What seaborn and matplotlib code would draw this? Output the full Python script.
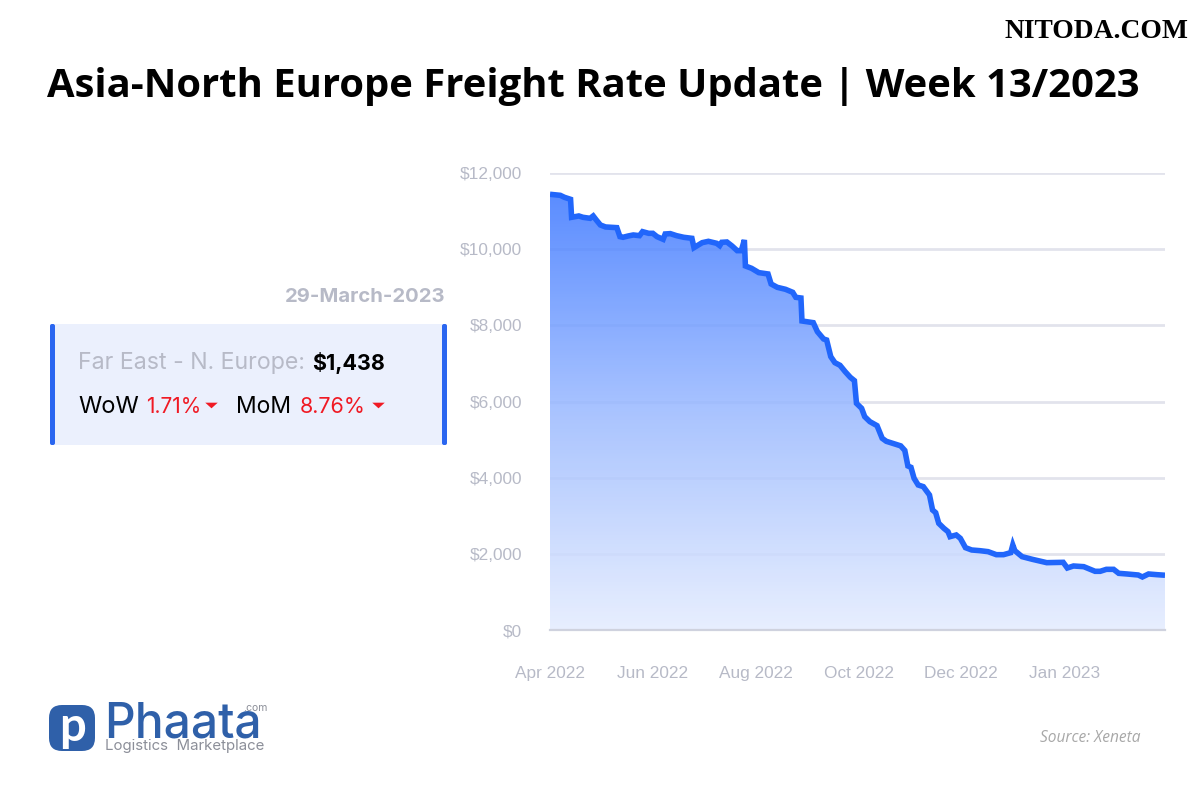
import numpy as np
import pandas as pd
import matplotlib
matplotlib.use("Agg")
import matplotlib.pyplot as plt
from matplotlib.colors import LinearSegmentedColormap
from matplotlib.patches import FancyBboxPatch, Rectangle
import seaborn as sns

# position along the chart's category axis, 100 steps between two labels
obs = [0, 10, 14, 20, 21, 28, 32, 39, 42, 45, 49, 54, 65, 68, 71, 76, 81, 87, 90, 96,
       100, 104, 110, 112, 117, 123, 130, 138, 140, 148, 154, 162, 165, 167, 172, 177,
       182, 186, 189, 190, 196, 203, 212, 215, 221, 229, 236, 239, 244, 245, 256, 260,
       266, 269, 273, 277, 282, 287, 292, 296, 298, 303, 306, 311, 318, 323, 327, 334,
       341, 345, 348, 351, 354, 358, 363, 369, 372, 375, 378, 383, 387, 389, 395, 399,
       404, 410, 418, 426, 434, 441, 448, 450, 452, 459, 469, 483, 499, 503, 509, 519,
       530, 535, 541, 548, 553, 561, 572, 576, 582, 590, 598]
rate = [11441, 11414, 11362, 11309, 10837, 10872, 10837, 10810, 10872, 10767, 10635, 10583,
        10565, 10329, 10312, 10346, 10373, 10355, 10460, 10416, 10416, 10329, 10259, 10399,
        10408, 10355, 10312, 10285, 10040, 10171, 10206, 10154, 10093, 10180, 10189, 10084,
        9961, 9961, 10241, 9559, 9497, 9384, 9349, 9086, 8998, 8946, 8867, 8736, 8718, 8114,
        8070, 7834, 7642, 7615, 7178, 7020, 6950, 6784, 6635, 6548, 5952, 5821, 5602, 5471,
        5366, 5033, 4955, 4895, 4835, 4715, 4307, 4272, 3983, 3808, 3764, 3545, 3151, 3081,
        2801, 2670, 2582, 2451, 2495, 2407, 2162, 2101, 2083, 2057, 1978, 1978, 2031, 2232,
        2083, 1926, 1856, 1768, 1777, 1628, 1681, 1663, 1541, 1541, 1593, 1593, 1488, 1471,
        1444, 1392, 1471, 1453, 1438]
month_labels = ["Apr 2022", "Jun 2022", "Aug 2022", "Oct 2022", "Dec 2022", "Jan 2023"]
month_pos = [0, 100, 200, 300, 400, 500]
y_ticks = [0, 2000, 4000, 6000, 8000, 10000, 12000]

df = pd.DataFrame({"obs": obs, "rate": rate})

sns.set_theme(style="white")
plt.rcParams["font.family"] = ["Liberation Sans", "DejaVu Sans"]

BLUE = "#2166fb"
GREY = "#b7bac7"
RED = "#f01a24"

fig = plt.figure(figsize=(12, 8), dpi=100, facecolor="white")

# page layer in pixels, everything that is not the chart goes here
page = fig.add_axes([0, 0, 1, 1])
page.set_xlim(0, 1200)
page.set_ylim(800, 0)
page.axis("off")

ax = fig.add_axes([550 / 1200, 170 / 800, 615 / 1200, 457 / 800])
ax.patch.set_alpha(0)

# gradient under the line, a bit see through so the grid shows faintly
grad = LinearSegmentedColormap.from_list("area", ["#e4ecfe", "#9ab9ff", "#3d78ff"])
fill = ax.fill_between(df["obs"], df["rate"], 0, color="none", lw=0)
im = ax.imshow(np.linspace(1, 0, 256).reshape(-1, 1), cmap=grad, aspect="auto",
               extent=(0, 598, 0, 11450), vmin=0, vmax=1, zorder=1, alpha=0.85)
im.set_clip_path(fill.get_paths()[0], transform=ax.transData)

sns.lineplot(data=df, x="obs", y="rate", ax=ax, color=BLUE, lw=4, zorder=3,
             errorbar=None, solid_joinstyle="miter", solid_capstyle="butt")

ax.set_xlim(0, 598)
ax.set_ylim(0, 12000)
ax.set_xlabel("")
ax.set_ylabel("")
ax.set_xticks(month_pos, month_labels)
ax.set_yticks(y_ticks, ["${:,}".format(v) for v in y_ticks])
ax.tick_params(axis="both", length=0, labelsize=12.4, labelcolor=GREY)
ax.tick_params(axis="x", pad=26)
ax.tick_params(axis="y", pad=20)
ax.set_axisbelow(True)
ax.yaxis.grid(True, color="#e2e3ec", lw=2)
ax.xaxis.grid(False)
sns.despine(ax=ax, left=True, top=True, right=True, bottom=False)
ax.spines["bottom"].set_color("#cfd2de")
ax.spines["bottom"].set_linewidth(1.6)

# header
page.text(47, 86, "Asia-North Europe Freight Rate Update | Week 13/2023", family="Open Sans",
          weight="bold", size=28.85, color="black", va="center", ha="left")
page.text(1188, 31, "NITODA.COM", family="Liberation Serif", weight="bold", size=19.8,
          color="black", va="center", ha="right")

# info card
page.text(445, 297, "29-March-2023", family="Inter", weight="bold", size=14.6, color=GREY,
          va="center", ha="right")
page.add_patch(Rectangle((50, 324), 397, 121, color="#ebf0fd", lw=0))
for bar_x in [50, 442]:
    page.add_patch(FancyBboxPatch((bar_x + 1, 325), 3, 119, boxstyle="round,pad=1,rounding_size=2",
                                  color="#2a66f0", lw=0))
page.text(78, 363, "Far East - N. Europe:", family="Inter", size=16.7, color=GREY, va="center")
page.text(312, 363, "$1,438", family="Inter", weight="bold", size=15.5, color="black", va="center")
page.text(78, 407, "WoW", family="Inter", size=17, color="black", va="center")
page.text(146, 407, "1.71%", family="Inter", size=15, color=RED, va="center")
page.text(236, 407, "MoM", family="Inter", size=16.5, color="black", va="center")
page.text(300, 407, "8.76%", family="Inter", size=15.5, color=RED, va="center")
page.plot([211, 378], [405, 405], ls="none", marker=[(-1, 0.45), (1, 0.45), (0, -0.45)], ms=9,
          color=RED, mew=0)

# logo
page.add_patch(FancyBboxPatch((52, 708), 40, 40, boxstyle="round,pad=3,rounding_size=13",
                              color="#2f60a9", lw=0))
page.text(72, 727, "p", family="Lato", weight="bold", size=34, color="white", va="center", ha="center")
page.text(104, 738, "Phaata", family="Inter", weight="medium", size=34.5, color="#2f60a9", va="baseline")
page.text(267, 711, ".com", family="Inter", size=7.5, color="#8c8f99", va="baseline", ha="right")
page.text(105, 750, "Logistics  Marketplace", family="Inter", size=10.8, color="#8c8f99", va="baseline")

page.text(1141, 738, "Source: Xeneta", family="Open Sans", style="italic", size=11.2,
          color="#a8a8a8", va="center", ha="right")

fig.savefig("out.png", dpi=100)
